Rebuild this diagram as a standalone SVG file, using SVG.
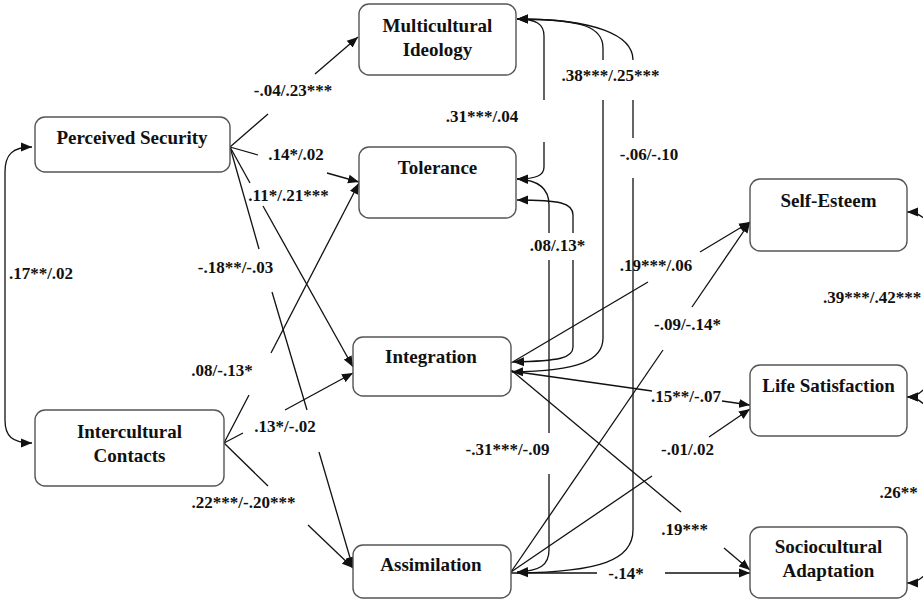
<svg xmlns="http://www.w3.org/2000/svg" width="923" height="601" viewBox="0 0 923 601">
<style>
.node rect{fill:#fff;stroke:#555;stroke-width:1.4}
.node text{font-family:"Liberation Serif","Times New Roman",serif;font-weight:bold;font-size:19px;fill:#111;text-anchor:middle}
.conn path{fill:none;stroke:#111;stroke-width:1.3}
.lbl text{font-family:"Liberation Serif","Times New Roman",serif;font-weight:bold;font-size:17px;fill:#111;text-anchor:middle}
</style>
<defs>
<marker id="ah" markerUnits="userSpaceOnUse" markerWidth="12" markerHeight="10" refX="11" refY="4.5" orient="auto-start-reverse" viewBox="0 0 12 9">
<path d="M0,0 L11,4.5 L0,9 z" fill="#111"/>
</marker>
</defs>
<rect width="923" height="601" fill="#fff"/>

<g class="conn">
<!-- PS -> MI -->
<path d="M230,147 L268,114"/><path d="M315,74 L358,37" marker-end="url(#ah)"/>
<!-- PS -> Tolerance -->
<path d="M230,147 L258,155"/><path d="M327,173 L359,182" marker-end="url(#ah)"/>
<!-- PS -> Integration -->
<path d="M230,147 L250,183"/><path d="M263,206 L353,367" marker-end="url(#ah)"/>
<!-- PS -> Assimilation -->
<path d="M230,147 L259,249"/><path d="M272,292 L307,410"/><path d="M319,452 L353,568" marker-end="url(#ah)"/>
<!-- IC -> Tolerance -->
<path d="M224,443 L249,395"/><path d="M271,353 L359,183" marker-end="url(#ah)"/>
<!-- IC -> Integration -->
<path d="M224,443 L243,433"/><path d="M285,410 L353,373" marker-end="url(#ah)"/>
<!-- IC -> Assimilation -->
<path d="M224,443 L268,486"/><path d="M308,525 L353,568" marker-end="url(#ah)"/>
<!-- PS <-> IC -->
<path d="M32,147 C12,147 5,155 5,172 L5,420 C5,436 12,443 32,443" marker-start="url(#ah)" marker-end="url(#ah)"/>
<!-- MI <-> Tolerance (x=544) -->
<path d="M517,19 C536,19 544,24 544,36 L544,100" marker-start="url(#ah)"/>
<path d="M544,142 L544,167 C544,175 537,179 517,179" marker-end="url(#ah)"/>
<!-- MI <-> Integration (x=603) -->
<path d="M517,19 C585,19 603,28 603,48 L603,60" marker-start="url(#ah)"/>
<path d="M603,100 L603,338 C603,360 580,371 512,372" marker-end="url(#ah)"/>
<!-- MI <-> Assimilation (x=633) -->
<path d="M517,19 C595,19 633,35 633,60" marker-start="url(#ah)"/>
<path d="M633,100 L633,138"/>
<path d="M633,178 L633,530 C633,560 600,572 517,573" marker-end="url(#ah)"/>
<!-- Tolerance <-> Assimilation (x=549) -->
<path d="M517,179 C540,180 549,190 549,205 L549,233" marker-start="url(#ah)"/>
<path d="M549,260 L549,433"/>
<path d="M549,474 L549,550 C549,565 540,571 517,572" marker-end="url(#ah)"/>
<!-- Tolerance <-> Integration (x=573) -->
<path d="M517,200 C560,200 573,203 573,215 L573,233" marker-start="url(#ah)"/>
<path d="M573,260 L573,347 C573,358 560,361 513,362" marker-end="url(#ah)"/>
<!-- Integration -> Self-Esteem -->
<path d="M511,363 L648,282"/><path d="M700,252 L750,222" marker-end="url(#ah)"/>
<!-- Assimilation -> Self-Esteem -->
<path d="M511,572 L663,350"/><path d="M692,307 L750,222" marker-end="url(#ah)"/>
<!-- Integration -> Life Satisfaction -->
<path d="M511,371 L652,391"/><path d="M722,401 L750,405" marker-end="url(#ah)"/>
<!-- Assimilation -> Life Satisfaction -->
<path d="M511,572 L652,476"/><path d="M709,437 L750,409" marker-end="url(#ah)"/>
<!-- Integration -> Sociocultural Adaptation -->
<path d="M511,370 L681,512"/><path d="M724,548 L750,570" marker-end="url(#ah)"/>
<!-- Assimilation -> Sociocultural Adaptation -->
<path d="M511,573 L597,573"/><path d="M665,573 L750,573" marker-end="url(#ah)"/>
<!-- Self-Esteem <-> Life Satisfaction -->
<path d="M907,212 C930,212 945,240 945,300 C945,360 930,397 907,397" marker-start="url(#ah)" marker-end="url(#ah)"/>
<!-- Life Satisfaction <-> Sociocultural Adaptation -->
<path d="M907,397 C930,397 945,430 945,490 C945,550 930,583 907,583" marker-start="url(#ah)" marker-end="url(#ah)"/>
</g>

<g id="node-mi" class="node"><rect x="359" y="4" width="157" height="71" rx="10"/><text x="437.5" y="32">Multicultural</text><text x="437.5" y="56">Ideology</text></g>
<g id="node-tol" class="node"><rect x="359" y="147" width="157" height="71" rx="10"/><text x="437.5" y="174">Tolerance</text></g>
<g id="node-ps" class="node"><rect x="35" y="117" width="195" height="55" rx="10"/><text x="132" y="144">Perceived Security</text></g>
<g id="node-ic" class="node"><rect x="35" y="410" width="189" height="76" rx="10"/><text x="129.5" y="438">Intercultural</text><text x="129.5" y="462">Contacts</text></g>
<g id="node-int" class="node"><rect x="353" y="337" width="158" height="59" rx="10"/><text x="431" y="363">Integration</text></g>
<g id="node-assim" class="node"><rect x="353" y="545" width="158" height="53" rx="10"/><text x="431" y="571">Assimilation</text></g>
<g id="node-se" class="node"><rect x="750" y="179" width="157" height="72" rx="10"/><text x="828.5" y="207">Self-Esteem</text></g>
<g id="node-ls" class="node"><rect x="750" y="365" width="157" height="71" rx="10"/><text x="828.5" y="392">Life Satisfaction</text></g>
<g id="node-sa" class="node"><rect x="750" y="527" width="157" height="71" rx="10"/><text x="828.5" y="553">Sociocultural</text><text x="828.5" y="577">Adaptation</text></g>

<g class="lbl">
<text x="293" y="96">-.04/.23***</text>
<text x="482" y="122">.31***/.04</text>
<text x="296" y="160">.14*/.02</text>
<text x="288.5" y="201">.11*/.21***</text>
<text x="41" y="279">.17**/.02</text>
<text x="235.5" y="273">-.18**/-.03</text>
<text x="610.5" y="81">.38***/.25***</text>
<text x="649" y="160">-.06/-.10</text>
<text x="557.5" y="251">.08/.13*</text>
<text x="656" y="271">.19***/.06</text>
<text x="823" y="303" style="text-anchor:start">.39***/.42***</text>
<text x="687.5" y="330">-.09/-.14*</text>
<text x="222" y="376">.08/-.13*</text>
<text x="285" y="432">.13*/-.02</text>
<text x="243.5" y="508">.22***/-.20***</text>
<text x="686" y="402">.15**/-.07</text>
<text x="687.5" y="455">-.01/.02</text>
<text x="507.5" y="455">-.31***/-.09</text>
<text x="684.5" y="535">.19***</text>
<text x="626" y="579">-.14*</text>
<text x="898.5" y="498">.26**</text>
</g>
</svg>
